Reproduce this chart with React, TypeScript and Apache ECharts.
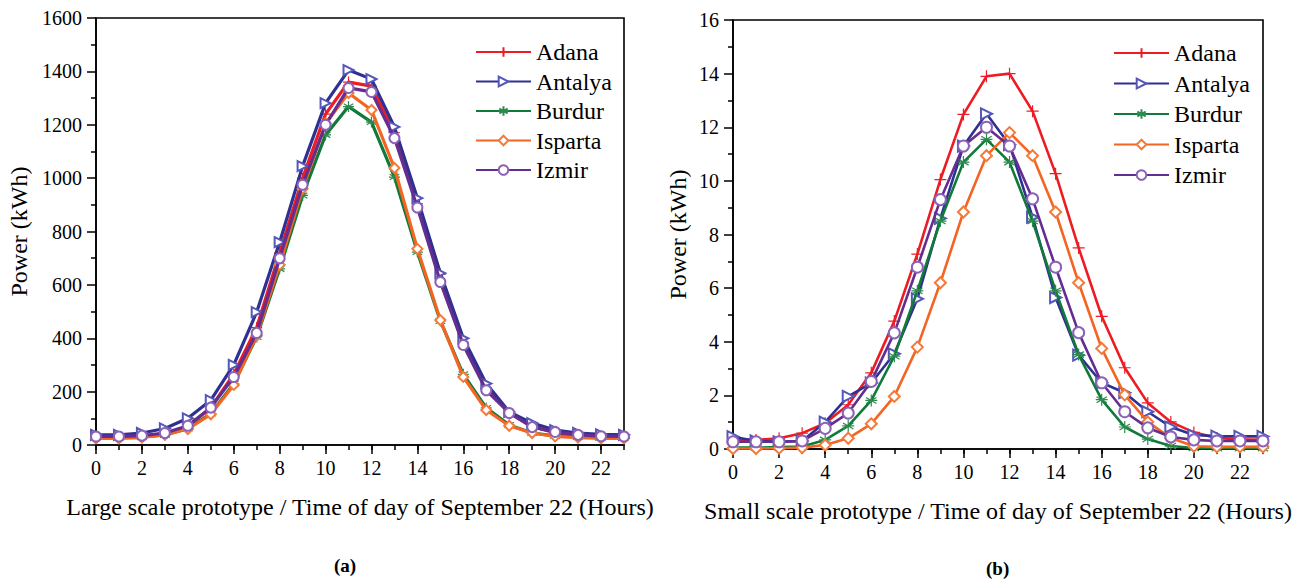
import React, { useEffect, useRef } from "react";
import * as echarts from "echarts";

const hours = Array.from({ length: 24 }, (_, i) => i);
const evenHours = [0, 2, 4, 6, 8, 10, 12, 14, 16, 18, 20, 22];

const cities = ["Adana", "Antalya", "Burdur", "Isparta", "Izmir"];

// Large scale prototype (kWh)
const largeAdana = [30, 30, 32, 42, 70, 140, 265, 440, 720, 1000, 1240, 1360, 1345, 1170, 905, 640, 385, 215, 120, 70, 45, 35, 30, 30];
const largeAntalya = [38, 38, 45, 62, 100, 168, 300, 498, 760, 1045, 1281, 1405, 1371, 1192, 925, 644, 400, 230, 124, 82, 56, 45, 40, 38];
const largeBurdur = [28, 28, 30, 38, 62, 118, 230, 405, 660, 935, 1162, 1268, 1210, 1004, 723, 465, 265, 139, 75, 45, 34, 30, 28, 28];
const largeIsparta = [25, 25, 28, 38, 60, 115, 225, 410, 675, 960, 1205, 1319, 1255, 1038, 735, 468, 255, 131, 72, 45, 32, 28, 25, 25];
const largeIzmir = [32, 32, 35, 45, 72, 140, 255, 420, 700, 975, 1200, 1338, 1323, 1150, 890, 611, 375, 205, 120, 67, 49, 38, 33, 32];

// Small scale prototype (kWh)
const smallAdana = [0.35, 0.34, 0.4, 0.59, 0.96, 1.65, 2.84, 4.77, 7.27, 10.05, 12.48, 13.9, 14.0, 12.6, 10.27, 7.5, 4.95, 3.03, 1.72, 1.01, 0.62, 0.41, 0.36, 0.34];
const smallAntalya = [0.46, 0.3, 0.27, 0.3, 1.0, 1.96, 2.46, 3.55, 5.6, 8.6, 11.3, 12.5, 11.35, 8.65, 5.65, 3.5, 2.47, 2.1, 1.39, 0.82, 0.52, 0.48, 0.47, 0.47];
const smallBurdur = [0.05, 0.05, 0.07, 0.09, 0.34, 0.86, 1.81, 3.46, 5.9, 8.5, 10.7, 11.55, 10.7, 8.5, 5.9, 3.52, 1.84, 0.82, 0.37, 0.11, 0.04, 0.03, 0.03, 0.03];
const smallIsparta = [0.02, 0.02, 0.03, 0.05, 0.15, 0.4, 0.94, 1.96, 3.8, 6.2, 8.84, 10.94, 11.8, 10.94, 8.84, 6.2, 3.75, 2.02, 1.01, 0.41, 0.1, 0.08, 0.08, 0.08];
const smallIzmir = [0.27, 0.27, 0.27, 0.3, 0.77, 1.34, 2.52, 4.33, 6.78, 9.3, 11.3, 12.0, 11.3, 9.33, 6.78, 4.34, 2.47, 1.39, 0.79, 0.45, 0.34, 0.3, 0.3, 0.3];

const largeData = [largeAdana, largeAntalya, largeBurdur, largeIsparta, largeIzmir];
const smallData = [smallAdana, smallAntalya, smallBurdur, smallIsparta, smallIzmir];

const lineColors = ["#ed1c24", "#2e3192", "#117a3a", "#f26522", "#662d91"];
const markColors = ["#ed1c24", "#5557b8", "#2d8a4e", "#f47a3a", "#8a62b8"];

const PLUS = "path://M0,-1L0,1M-1,0L1,0";
const STAR = "path://M0,-1L0,1M-0.87,-0.5L0.87,0.5M-0.87,0.5L0.87,-0.5M-1,0L1,0";
const symbols = [PLUS, "emptyTriangle", STAR, "emptyDiamond", "emptyCircle"];
const rotations = [0, -90, 0, 0, 0];

const FONT = "Liberation Serif";

function makeSeries(data: number[][], xi: number, yi: number, suffix: string, lw: number, ss: number) {
  return data.map((vals, i) => {
    const isPath = symbols[i].startsWith("path://");
    return {
      name: cities[i] + suffix,
      type: "line",
      xAxisIndex: xi,
      yAxisIndex: yi,
      data: hours.map((h) => [h, vals[h]]),
      symbol: symbols[i],
      symbolRotate: rotations[i],
      symbolSize: isPath ? ss + 1 : ss,
      showAllSymbol: true,
      lineStyle: { color: lineColors[i], width: lw },
      itemStyle: isPath
        ? { color: "rgba(0,0,0,0)", borderColor: markColors[i], borderWidth: 1.2 }
        : { color: markColors[i], borderColor: markColors[i], borderWidth: 1.1 },
      z: 2 + i,
    };
  });
}

function xAxes(gridIndex: number) {
  return [
    {
      type: "value",
      gridIndex,
      position: "bottom",
      min: 0,
      max: 23,
      interval: 1,
      splitLine: { show: false },
      axisLine: { show: true, onZero: false, lineStyle: { color: "#000", width: 1.6 } },
      axisTick: { show: true, length: 5, inside: false, lineStyle: { color: "#000", width: 1.5 } },
      axisLabel: {
        customValues: evenHours,
        color: "#000",
        fontFamily: FONT,
        fontSize: 20,
        margin: 13,
      },
      nameLocation: "middle",
      nameGap: 50,
      nameTextStyle: { color: "#000", fontFamily: FONT, fontSize: 24 },
    },
    {
      type: "value",
      gridIndex,
      position: "bottom",
      min: 0,
      max: 23,
      interval: 1,
      splitLine: { show: false },
      axisLine: { show: false, onZero: false },
      axisTick: { show: true, customValues: evenHours, length: 9, inside: false, lineStyle: { color: "#000", width: 1.5 } },
      axisLabel: { show: false },
    },
  ];
}

export default function App() {
  const ref = useRef<HTMLDivElement>(null);
  useEffect(() => {
    if (!ref.current) return;
    const chart = echarts.init(ref.current, null, { renderer: "svg" });
    const xa = [...xAxes(0), ...xAxes(1)];
    (xa[0] as any).name = "Large scale prototype / Time of day of September 22 (Hours)";
    (xa[2] as any).name = "Small scale prototype / Time of day of September 22 (Hours)";
    const yBase = (gridIndex: number, max: number, interval: number, gap: number) => ({
      type: "value",
      gridIndex,
      min: 0,
      max,
      interval,
      name: "Power (kWh)",
      nameLocation: "middle",
      nameGap: gap,
      nameTextStyle: { color: "#000", fontFamily: FONT, fontSize: 24 },
      splitLine: { show: false },
      axisLine: { show: true, onZero: false, lineStyle: { color: "#000", width: 1.6 } },
      axisTick: { show: true, length: 9, inside: false, lineStyle: { color: "#000", width: 1.5 } },
      minorTick: { show: true, splitNumber: 2, length: 5, lineStyle: { color: "#000", width: 1.5 } },
      axisLabel: { color: "#000", fontFamily: FONT, fontSize: 20, margin: 14, formatter: (v: number) => String(v) },
    });
    const legendBase = {
      orient: "vertical",
      itemWidth: 55,
      itemHeight: 12,
      textStyle: { color: "#000", fontFamily: FONT, fontSize: 24, lineHeight: 24 },
      formatter: (n: string) => n.replace("#b", ""),
      selectedMode: false,
    };
    chart.setOption({
      animation: false,
      backgroundColor: "#fff",
      grid: [
        { left: 96, top: 18, width: 528, height: 427, show: true, borderColor: "#000", borderWidth: 1.6, backgroundColor: "transparent" },
        { left: 733, top: 20, width: 530, height: 429, show: true, borderColor: "#000", borderWidth: 1.6, backgroundColor: "transparent" },
      ],
      xAxis: xa,
      yAxis: [yBase(0, 1600, 200, 65), yBase(1, 16, 2, 43)],
      legend: [
        { ...legendBase, left: 470, top: 35, itemGap: 5.5, data: cities },
        { ...legendBase, left: 1108, top: 36, itemGap: 6.5, data: cities.map((c) => c + "#b") },
      ],
      graphic: [
        { type: "text", left: 334, top: 556, style: { text: "(a)", font: "bold 19px 'Liberation Serif'", fill: "#000" } },
        { type: "text", left: 986, top: 559, style: { text: "(b)", font: "bold 19px 'Liberation Serif'", fill: "#000" } },
      ],
      series: [
        ...makeSeries(largeData, 0, 0, "", 3.2, 10),
        ...makeSeries(smallData, 2, 1, "#b", 2.6, 11),
      ],
    } as any);
    return () => chart.dispose();
  }, []);
  return <div ref={ref} style={{ position: "absolute", left: 0, top: 0, width: 1307, height: 581 }} />;
}
